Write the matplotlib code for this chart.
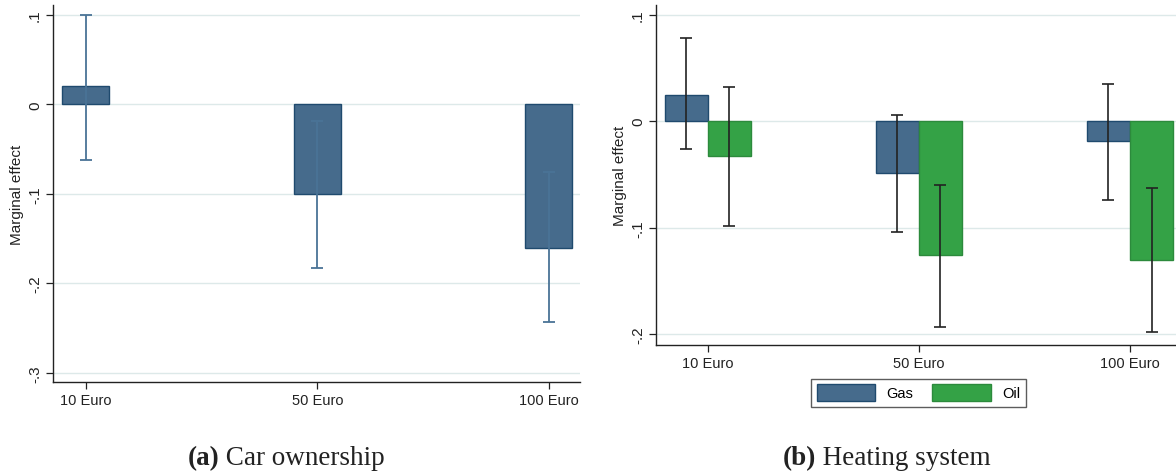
import matplotlib
matplotlib.use("Agg")
import matplotlib.pyplot as plt
from matplotlib.patches import Patch
import numpy as np

# ---- data ----
categories = ["10 Euro", "50 Euro", "100 Euro"]

car_effect = [0.020, -0.100, -0.160]
car_ci_low = [-0.062, -0.183, -0.243]
car_ci_high = [0.100, -0.018, -0.075]

gas_effect = [0.025, -0.049, -0.019]
gas_ci_low = [-0.026, -0.104, -0.074]
gas_ci_high = [0.078, 0.006, 0.035]

oil_effect = [-0.033, -0.126, -0.130]
oil_ci_low = [-0.098, -0.193, -0.198]
oil_ci_high = [0.032, -0.060, -0.063]

yticks_a = [0.1, 0, -0.1, -0.2, -0.3]
yticks_b = [0.1, 0, -0.1, -0.2]
ytick_labels_a = [".1", "0", "-.1", "-.2", "-.3"]
ytick_labels_b = [".1", "0", "-.1", "-.2"]

# ---- style ----
plt.rcParams['font.family'] = ['Liberation Sans', 'DejaVu Sans']
BLUE = "#466b8c"
BLUE_EDGE = "#1f4a6e"
GREEN = "#34a246"
GREEN_EDGE = "#2c8a3c"
GRID = "#dde9e9"
FSX = 10.5
FSY = 11

fig = plt.figure(figsize=(11.76, 4.77), dpi=100)

def style_axes(ax, yticks, ylabels):
    for s in ["top", "right"]:
        ax.spines[s].set_visible(False)
    for s in ["left", "bottom"]:
        ax.spines[s].set_color("#222222")
        ax.spines[s].set_linewidth(1.0)
    ax.set_yticks(yticks)
    ax.set_yticklabels(ylabels, rotation=90, va="center", fontsize=FSY, color="#222222")
    ax.set_xticks(range(len(categories)))
    ax.set_xticklabels(categories, fontsize=FSX, color="#222222")
    ax.tick_params(axis="both", direction="out", length=5, width=0.9, color="#222222", pad=3)
    ax.yaxis.grid(True, color=GRID, lw=1.0)
    ax.set_axisbelow(True)
    ax.set_ylabel("Marginal effect", fontsize=FSY, labelpad=3, color="#222222")

# ---- panel (a) ----
ax1 = fig.add_axes([53/1176, 1-383/477, (580-53)/1176, (383-6)/477])
x = np.arange(len(categories))
w = 0.203
ax1.bar(x, car_effect, width=w, color=BLUE, edgecolor=BLUE_EDGE, linewidth=1.0, zorder=2)
err_a = [np.array(car_effect) - np.array(car_ci_low), np.array(car_ci_high) - np.array(car_effect)]
ax1.errorbar(x, car_effect, yerr=err_a, fmt="none", ecolor="#4a7396", elinewidth=1.3,
             capsize=4, capthick=1.3, zorder=3)
ax1.set_xlim(-0.1425, 2.134)
ax1.set_ylim(-0.310, 0.111)
style_axes(ax1, yticks_a, ytick_labels_a)

# ---- panel (b) ----
ax2 = fig.add_axes([656/1176, 1-346/477, (1176-656)/1176, (346-6)/477])
wb = 0.204
xg = x - wb/2
xo = x + wb/2
ax2.bar(xg, gas_effect, width=wb, color=BLUE, edgecolor=BLUE_EDGE, linewidth=1.0, zorder=2, label="Gas")
ax2.bar(xo, oil_effect, width=wb, color=GREEN, edgecolor=GREEN_EDGE, linewidth=1.0, zorder=2, label="Oil")
err_g = [np.array(gas_effect) - np.array(gas_ci_low), np.array(gas_ci_high) - np.array(gas_effect)]
err_o = [np.array(oil_effect) - np.array(oil_ci_low), np.array(oil_ci_high) - np.array(oil_effect)]
ax2.errorbar(xg, gas_effect, yerr=err_g, fmt="none", ecolor="#222222", elinewidth=1.2,
             capsize=4, capthick=1.2, zorder=3)
ax2.errorbar(xo, oil_effect, yerr=err_o, fmt="none", ecolor="#222222", elinewidth=1.2,
             capsize=4, capthick=1.2, zorder=3)
ax2.set_xlim(-0.246, 2.218)
ax2.set_ylim(-0.210, 0.109)
style_axes(ax2, yticks_b, ytick_labels_b)

handles = [Patch(facecolor=BLUE, edgecolor=BLUE_EDGE, label="Gas"),
           Patch(facecolor=GREEN, edgecolor=GREEN_EDGE, label="Oil")]
leg = fig.legend(handles=handles, loc="center", bbox_to_anchor=(918.5/1176, 1-393.5/477),
                 ncol=2, fontsize=FSX, frameon=True, fancybox=False, edgecolor="#333333",
                 handlelength=4.0, handleheight=1.5, columnspacing=1.3, handletextpad=0.8,
                 borderpad=0.35, borderaxespad=0)
leg.get_frame().set_linewidth(1.0)

# ---- captions ----
cap_y = 1 - 459/477
for cx, lab, txt in [(219/1176, "(a)", " Car ownership"), (816/1176, "(b)", " Heating system")]:
    fig.text(cx, cap_y, lab, fontsize=19.5, fontweight="bold", family=["Liberation Serif"],
             ha="right", va="center", color="#222222")
    fig.text(cx, cap_y, txt, fontsize=19.5, family=["Liberation Serif"], ha="left", va="center",
             color="#222222")

fig.savefig("out.png", dpi=100)
